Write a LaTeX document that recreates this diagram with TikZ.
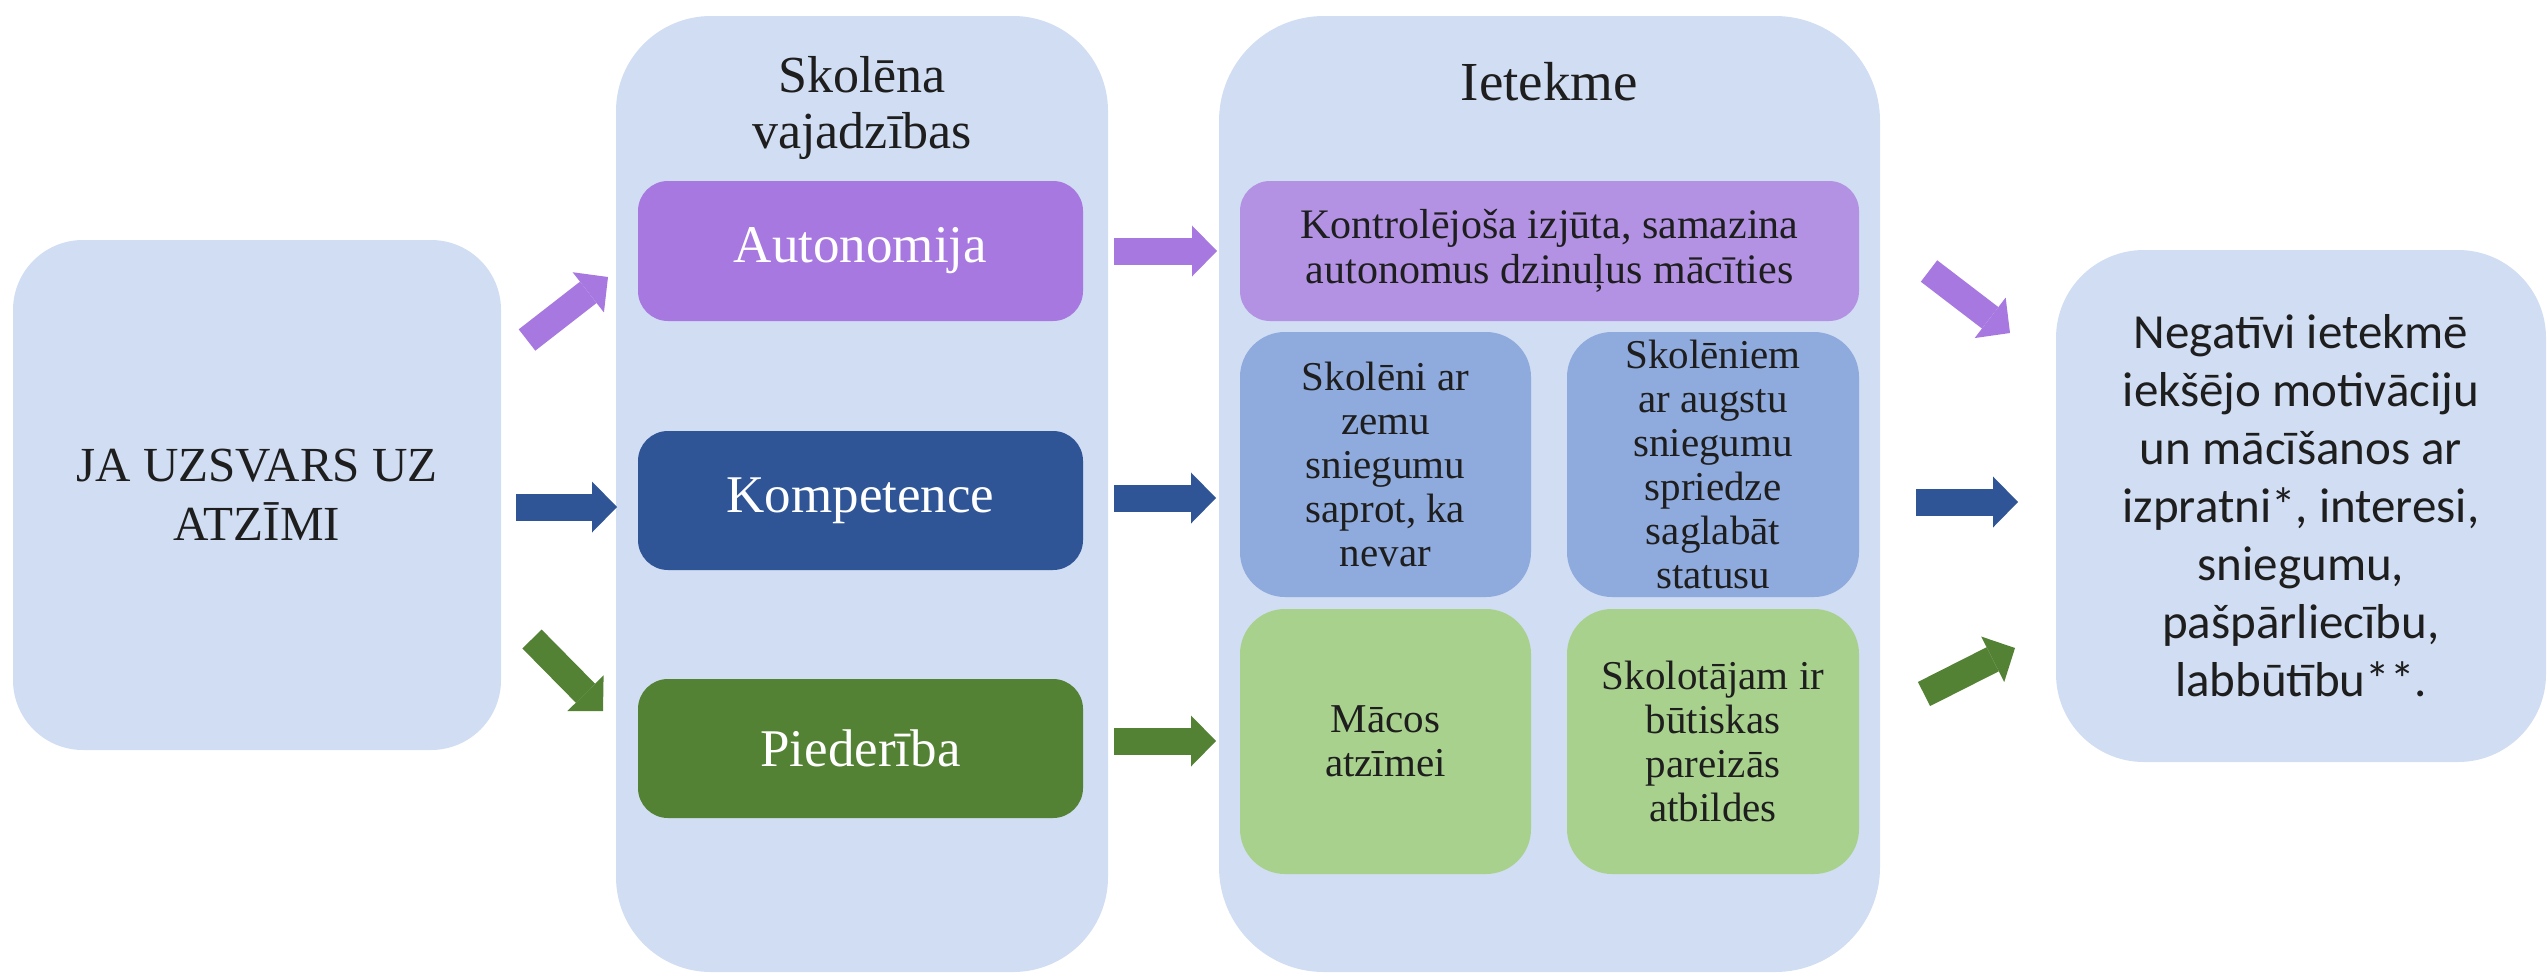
\documentclass[tikz,border=0pt]{standalone}
\usepackage{fontspec}
\setmainfont{Liberation Serif}
\newfontfamily\carlito{Carlito}
\usetikzlibrary{arrows.meta}
\definecolor{bgblue}{HTML}{D0DDF2}
\definecolor{purpA}{HTML}{A778E0}
\definecolor{purpB}{HTML}{B392E4}
\definecolor{dblue}{HTML}{2F5597}
\definecolor{mblue}{HTML}{8FAADC}
\definecolor{dgreen}{HTML}{548235}
\definecolor{lgreen}{HTML}{A9D18E}
\definecolor{ink}{HTML}{1E1E1E}
\begin{document}
\begin{tikzpicture}[x=1pt,y=-1pt,
  box/.style={rectangle, inner sep=0pt, draw=none, align=center, text=ink},
  panel/.style={box, fill=bgblue},
  bigtxt/.style={font=\fontsize{53}{60}\selectfont},
  smalltxt/.style={font=\fontsize{41}{44}\selectfont},
  blockarrow/.style={draw=#1, line width=27pt,
    -{Triangle[length=25pt,width=51pt,line width=0pt]}},
]
\useasboundingbox (0,0) rectangle (2547,977);

% panels
\node[panel, rounded corners=70pt, minimum width=488pt, minimum height=510pt,
  font=\fontsize{49}{59}\selectfont] (left) at (257,495) {JA UZSVARS UZ\\ATZĪMI};
\node[panel, rounded corners=95pt, minimum width=492pt, minimum height=956pt] (needs) at (862,494) {};
\node[panel, rounded corners=105pt, minimum width=661pt, minimum height=956pt] (impact) at (1549.5,494) {};
\node[panel, rounded corners=88pt, minimum width=490pt, minimum height=512pt,
  font=\carlito\fontsize{49}{58}\selectfont] (result) at (2301,506)
  {Negatīvi ietekmē\\iekšējo motivāciju\\un mācīšanos ar\\izpratni*, interesi,\\sniegumu,\\pašpārliecību,\\labbūtību**.};

% titles
\node[box, font=\fontsize{52}{56}\selectfont] (needsT) at (862,108) {Skolēna\\vajadzības};
\node[box, anchor=base, font=\fontsize{55}{58}\selectfont] (impactT) at (1549.5,100) {Ietekme};

% needs
\node[box, bigtxt, fill=purpA, text=white, rounded corners=30pt, minimum width=445pt, minimum height=140pt] (auto) at (860.5,251) {Autonomija};
\node[box, bigtxt, fill=dblue, text=white, rounded corners=30pt, minimum width=445pt, minimum height=139pt] (komp) at (860.5,500.5) {Kompetence};
\node[box, bigtxt, fill=dgreen, text=white, rounded corners=30pt, minimum width=445pt, minimum height=139pt] (pied) at (860.5,748.5) {Piederība};

% impacts
\node[box, font=\fontsize{42}{45}\selectfont, fill=purpB, rounded corners=30pt, minimum width=619pt, minimum height=140pt] (kontr) at (1549.5,251)
  {Kontrolējoša izjūta, samazina\\autonomus dzinuļus mācīties};
\node[box, smalltxt, fill=mblue, rounded corners=45pt, minimum width=291pt, minimum height=265pt] (zemu) at (1385.5,464.5)
  {Skolēni ar\\zemu\\sniegumu\\saprot, ka\\nevar};
\node[box, smalltxt, fill=mblue, rounded corners=45pt, minimum width=292pt, minimum height=265pt] (augstu) at (1713,464.5)
  {Skolēniem\\ar augstu\\sniegumu\\spriedze\\saglabāt\\statusu};
\node[box, smalltxt, fill=lgreen, rounded corners=45pt, minimum width=291pt, minimum height=265pt] (macos) at (1385.5,741.5)
  {Mācos\\atzīmei};
\node[box, smalltxt, fill=lgreen, rounded corners=45pt, minimum width=292pt, minimum height=265pt] (skolot) at (1713,741.5)
  {Skolotājam ir\\būtiskas\\pareizās\\atbildes};

% arrow end points
\coordinate (a1s) at (527,340);  \coordinate (a1e) at (608,277);
\coordinate (a2s) at (516,507);  \coordinate (a2e) at (617,507);
\coordinate (a3s) at (532,639);  \coordinate (a3e) at (603,711);
\coordinate (b1s) at (1114,251); \coordinate (b1e) at (1217,251);
\coordinate (b2s) at (1114,498); \coordinate (b2e) at (1216,498);
\coordinate (b3s) at (1114,741); \coordinate (b3e) at (1216,741);
\coordinate (c1s) at (1929,271); \coordinate (c1e) at (2010,333);
\coordinate (c2s) at (1916,502); \coordinate (c2e) at (2018,502);
\coordinate (c3s) at (1924,694); \coordinate (c3e) at (2015,648);

\draw[blockarrow=purpA] (a1s) -- (a1e);
\draw[blockarrow=dblue] (a2s) -- (a2e);
\draw[blockarrow=dgreen] (a3s) -- (a3e);
\draw[blockarrow=purpA] (b1s) -- (b1e);
\draw[blockarrow=dblue] (b2s) -- (b2e);
\draw[blockarrow=dgreen] (b3s) -- (b3e);
\draw[blockarrow=purpA] (c1s) -- (c1e);
\draw[blockarrow=dblue] (c2s) -- (c2e);
\draw[blockarrow=dgreen] (c3s) -- (c3e);
\end{tikzpicture}
\end{document}
